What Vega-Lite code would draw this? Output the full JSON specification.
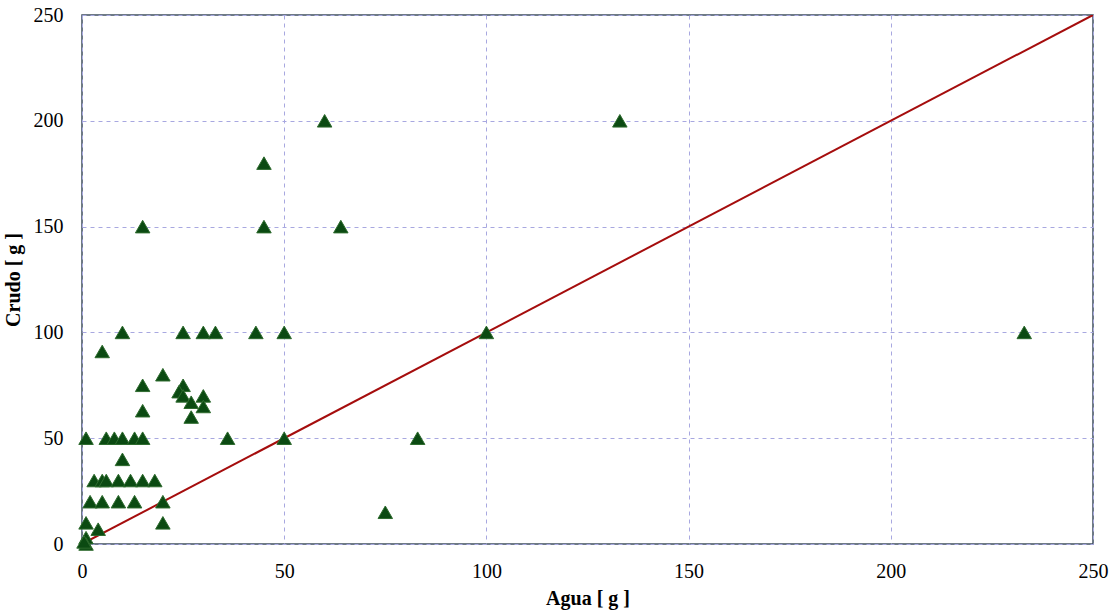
{
  "$schema": "https://vega.github.io/schema/vega-lite/v6.json",
  "autosize": "none",
  "width": 1011,
  "height": 529,
  "padding": {"left": 82, "top": 15, "right": 21, "bottom": 69},
  "background": "white",
  "config": {
    "view": {"stroke": "#3F4F5F", "strokeWidth": 1.5},
    "axis": {
      "labelFont": "Liberation Serif",
      "titleFont": "Liberation Serif",
      "labelFontSize": 20,
      "titleFontSize": 20,
      "labelColor": "#000000",
      "titleColor": "#000000",
      "labelFlush": false,
      "ticks": false,
      "domain": false,
      "grid": true,
      "gridColor": "#A8A8E0",
      "gridDash": [4, 4],
      "gridWidth": 1
    }
  },
  "datasets": {
    "pts": [
      {"agua": 60, "crudo": 200}, {"agua": 133, "crudo": 200},
      {"agua": 45, "crudo": 180}, {"agua": 45, "crudo": 150},
      {"agua": 64, "crudo": 150}, {"agua": 15, "crudo": 150},
      {"agua": 10, "crudo": 100}, {"agua": 25, "crudo": 100},
      {"agua": 30, "crudo": 100}, {"agua": 33, "crudo": 100},
      {"agua": 43, "crudo": 100}, {"agua": 50, "crudo": 100},
      {"agua": 100, "crudo": 100}, {"agua": 233, "crudo": 100},
      {"agua": 5, "crudo": 91}, {"agua": 20, "crudo": 80},
      {"agua": 15, "crudo": 75}, {"agua": 25, "crudo": 75},
      {"agua": 24, "crudo": 72}, {"agua": 25, "crudo": 70},
      {"agua": 30, "crudo": 70}, {"agua": 27, "crudo": 67},
      {"agua": 30, "crudo": 65}, {"agua": 15, "crudo": 63},
      {"agua": 27, "crudo": 60},
      {"agua": 1, "crudo": 50}, {"agua": 6, "crudo": 50},
      {"agua": 8, "crudo": 50}, {"agua": 10, "crudo": 50},
      {"agua": 13, "crudo": 50}, {"agua": 15, "crudo": 50},
      {"agua": 36, "crudo": 50}, {"agua": 50, "crudo": 50},
      {"agua": 83, "crudo": 50},
      {"agua": 10, "crudo": 40},
      {"agua": 3, "crudo": 30}, {"agua": 5, "crudo": 30},
      {"agua": 6, "crudo": 30}, {"agua": 9, "crudo": 30},
      {"agua": 12, "crudo": 30}, {"agua": 15, "crudo": 30},
      {"agua": 18, "crudo": 30},
      {"agua": 2, "crudo": 20}, {"agua": 5, "crudo": 20},
      {"agua": 9, "crudo": 20}, {"agua": 13, "crudo": 20},
      {"agua": 20, "crudo": 20},
      {"agua": 75, "crudo": 15},
      {"agua": 1, "crudo": 10}, {"agua": 20, "crudo": 10},
      {"agua": 4, "crudo": 7}, {"agua": 1, "crudo": 3},
      {"agua": 1, "crudo": 0}, {"agua": 0.5, "crudo": 1}
    ],
    "line": [
      {"agua": 0, "crudo": 0}, {"agua": 250, "crudo": 250}
    ]
  },
  "layer": [
    {
      "data": {"name": "line"},
      "mark": {"type": "line", "color": "#A50D0D", "strokeWidth": 2, "clip": true},
      "encoding": {
        "x": {"field": "agua", "type": "quantitative", "scale": {"domain": [0, 250], "nice": false},
              "axis": {"values": [0, 50, 100, 150, 200, 250], "title": "Agua [ g ]", "labelPadding": 17, "titlePadding": 7}},
        "y": {"field": "crudo", "type": "quantitative", "scale": {"domain": [0, 250], "nice": false},
              "axis": {"values": [0, 50, 100, 150, 200, 250], "title": "Crudo [ g ]", "labelPadding": 19, "titlePadding": 10}}
      }
    },
    {
      "data": {"name": "pts"},
      "mark": {"type": "point", "shape": "triangle-up", "filled": true, "size": 210, "color": "#0B4A12", "stroke": "#2E6B2E", "strokeWidth": 1, "opacity": 1},
      "encoding": {
        "x": {"field": "agua", "type": "quantitative"},
        "y": {"field": "crudo", "type": "quantitative"}
      }
    }
  ]
}
